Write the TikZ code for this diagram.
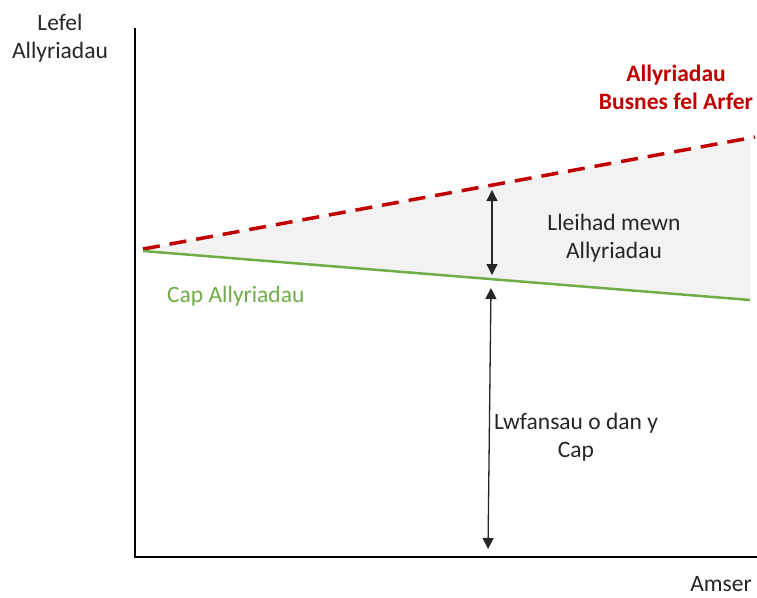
\documentclass[tikz,border=0pt]{standalone}
\usepackage{fontspec}
\setmainfont{Carlito}
\usepackage{xcolor}
\usetikzlibrary{arrows.meta,positioning}

\definecolor{bauRed}{HTML}{C00000}
\definecolor{capGreen}{HTML}{70AD47}
\definecolor{txtGray}{HTML}{262626}
\definecolor{gapGray}{HTML}{F2F2F2}

\begin{document}
\begin{tikzpicture}[x=1pt, y=-1pt,
txt/.style={font=\fontsize{23.5}{28}\selectfont, align=center, text=txtGray, inner sep=0pt},
axis/.style={line width=2.5pt, black},
bauline/.style={line width=3.5pt, bauRed, dash pattern=on 17pt off 10pt},
capline/.style={line width=2.5pt, capGreen},
dblarrow/.style={{Triangle[length=11pt,width=11pt]}-{Triangle[length=11pt,width=11pt]}, line width=1.3pt, txtGray}
]
\useasboundingbox (0,0) rectangle (757,597);

% Shaded gap
\fill[gapGray] (143,249) -- (750,138) -- (750,300) -- (143,251) -- cycle;

% Axes
\coordinate (ytop) at (135,28);
\coordinate (origin) at (135,557);
\coordinate (xend) at (757,557);
\draw[axis] (ytop) -- (origin) -- (xend);

% Lines
\coordinate (bauStart) at (143,249);
\coordinate (bauEnd) at (755,137);
\coordinate (capStart) at (143,251);
\coordinate (capEnd) at (750,300);
\draw[bauline] (bauStart) -- (bauEnd);
\draw[capline] (capStart) -- (capEnd);

% Arrows
\coordinate (gapTop) at (492,190);
\coordinate (gapBot) at (492,275);
\coordinate (allowTop) at (491,288);
\coordinate (allowBot) at (488,549);
\draw[dblarrow] (gapTop) -- (gapBot);
\draw[dblarrow] (allowTop) -- (allowBot);

% Labels
\node[txt] (ylabel) at (60,38) {Lefel\\Allyriadau};
\node[txt] (xlabel) at (721,584) {Amser};
\node[txt, text=bauRed, font=\fontsize{23.5}{28}\selectfont\bfseries] (baulabel) at (676,87) {Allyriadau\\Busnes fel Arfer};
\node[txt] (gaplabel) at (614,238) {Lleihad mewn\\Allyriadau};
\node[txt, text=capGreen, anchor=west] (caplabel) at (167,296) {Cap Allyriadau};
\node[txt] (allowlabel) at (576,437) {Lwfansau o dan y\\Cap};

\end{tikzpicture}
\end{document}
